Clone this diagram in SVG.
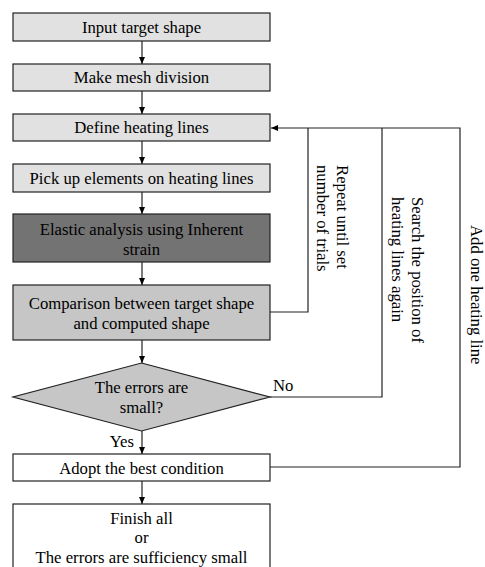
<svg xmlns="http://www.w3.org/2000/svg" width="485" height="567" viewBox="0 0 485 567">
<defs>
<marker id="ah" markerUnits="userSpaceOnUse" markerWidth="8" markerHeight="8" viewBox="0 0 8 8" refX="7" refY="4" orient="auto">
<path d="M0,1 L7,4 L0,7 Z" fill="#000"/>
</marker>
<style>
.box{stroke:#222;stroke-width:1.2}
.l{fill:#e1e1e1}
.d{fill:#737373}
.m{fill:#c6c6c6}
.w{fill:#fff}
.t{font-family:"Liberation Serif","Times New Roman",serif;font-size:16.7px;fill:#000}
.c{text-anchor:middle}
.ln{fill:none;stroke:#222;stroke-width:1.2}
</style>
</defs>
<rect width="485" height="567" fill="#fff"/>
<g id="connectors">
<line class="ln" x1="142" y1="41" x2="142" y2="64" marker-end="url(#ah)"/>
<line class="ln" x1="142" y1="91" x2="142" y2="114" marker-end="url(#ah)"/>
<line class="ln" x1="142" y1="141" x2="142" y2="164" marker-end="url(#ah)"/>
<line class="ln" x1="142" y1="192" x2="142" y2="214" marker-end="url(#ah)"/>
<line class="ln" x1="142" y1="262" x2="142" y2="285" marker-end="url(#ah)"/>
<line class="ln" x1="142" y1="340" x2="142" y2="363" marker-end="url(#ah)"/>
<line class="ln" x1="142" y1="431" x2="142" y2="454" marker-end="url(#ah)"/>
<line class="ln" x1="142" y1="481" x2="142" y2="504" marker-end="url(#ah)"/>
<polyline class="ln" points="270,312 308,312 308,128"/>
<polyline class="ln" points="270,397 382,397 382,128"/>
<polyline class="ln" points="270,467 460,467 460,128 308,128"/>
<line class="ln" x1="308" y1="128" x2="271" y2="128" stroke-width="2" marker-end="url(#ah)"/>
<text class="t" x="273" y="391">No</text>
<text class="t" x="134" y="447" text-anchor="end">Yes</text>
<text class="t" transform="translate(337,165) rotate(90)">Repeat until set</text>
<text class="t" transform="translate(317,165) rotate(90)">number of trials</text>
<text class="t" transform="translate(412,197) rotate(90)">Search the position of</text>
<text class="t" transform="translate(392,197) rotate(90)">heating lines again</text>
<text class="t" transform="translate(471,225) rotate(90)">Add one heating line</text>
</g>
<g id="n1"><rect class="box l" x="13" y="13" width="257" height="28"/><text class="t c" x="141.5" y="33">Input target shape</text></g>
<g id="n2"><rect class="box l" x="13" y="64" width="257" height="27"/><text class="t c" x="141.5" y="83">Make mesh division</text></g>
<g id="n3"><rect class="box l" x="13" y="114" width="257" height="27"/><text class="t c" x="141.5" y="133">Define heating lines</text></g>
<g id="n4"><rect class="box l" x="13" y="164" width="257" height="28"/><text class="t c" x="141.5" y="184">Pick up elements on heating lines</text></g>
<g id="n5"><rect class="box d" x="13" y="214" width="257" height="48"/><text class="t c" x="141.5" y="235">Elastic analysis using Inherent</text><text class="t c" x="141.5" y="255">strain</text></g>
<g id="n6"><rect class="box m" x="13" y="285" width="257" height="55"/><text class="t c" x="141.5" y="309">Comparison between target shape</text><text class="t c" x="141.5" y="329">and computed shape</text></g>
<g id="n7"><polygon class="box m" points="141.5,363 270,397 141.5,431 13,397"/><text class="t c" x="141.5" y="393">The errors are</text><text class="t c" x="141.5" y="413">small?</text></g>
<g id="n8"><rect class="box w" x="13" y="454" width="257" height="27"/><text class="t c" x="141.5" y="474">Adopt the best condition</text></g>
<g id="n9"><rect class="box w" x="13" y="504" width="257" height="70"/><text class="t c" x="141.5" y="524">Finish all</text><text class="t c" x="141.5" y="543">or</text><text class="t c" x="141.5" y="563">The errors are sufficiency small</text></g>
</svg>
